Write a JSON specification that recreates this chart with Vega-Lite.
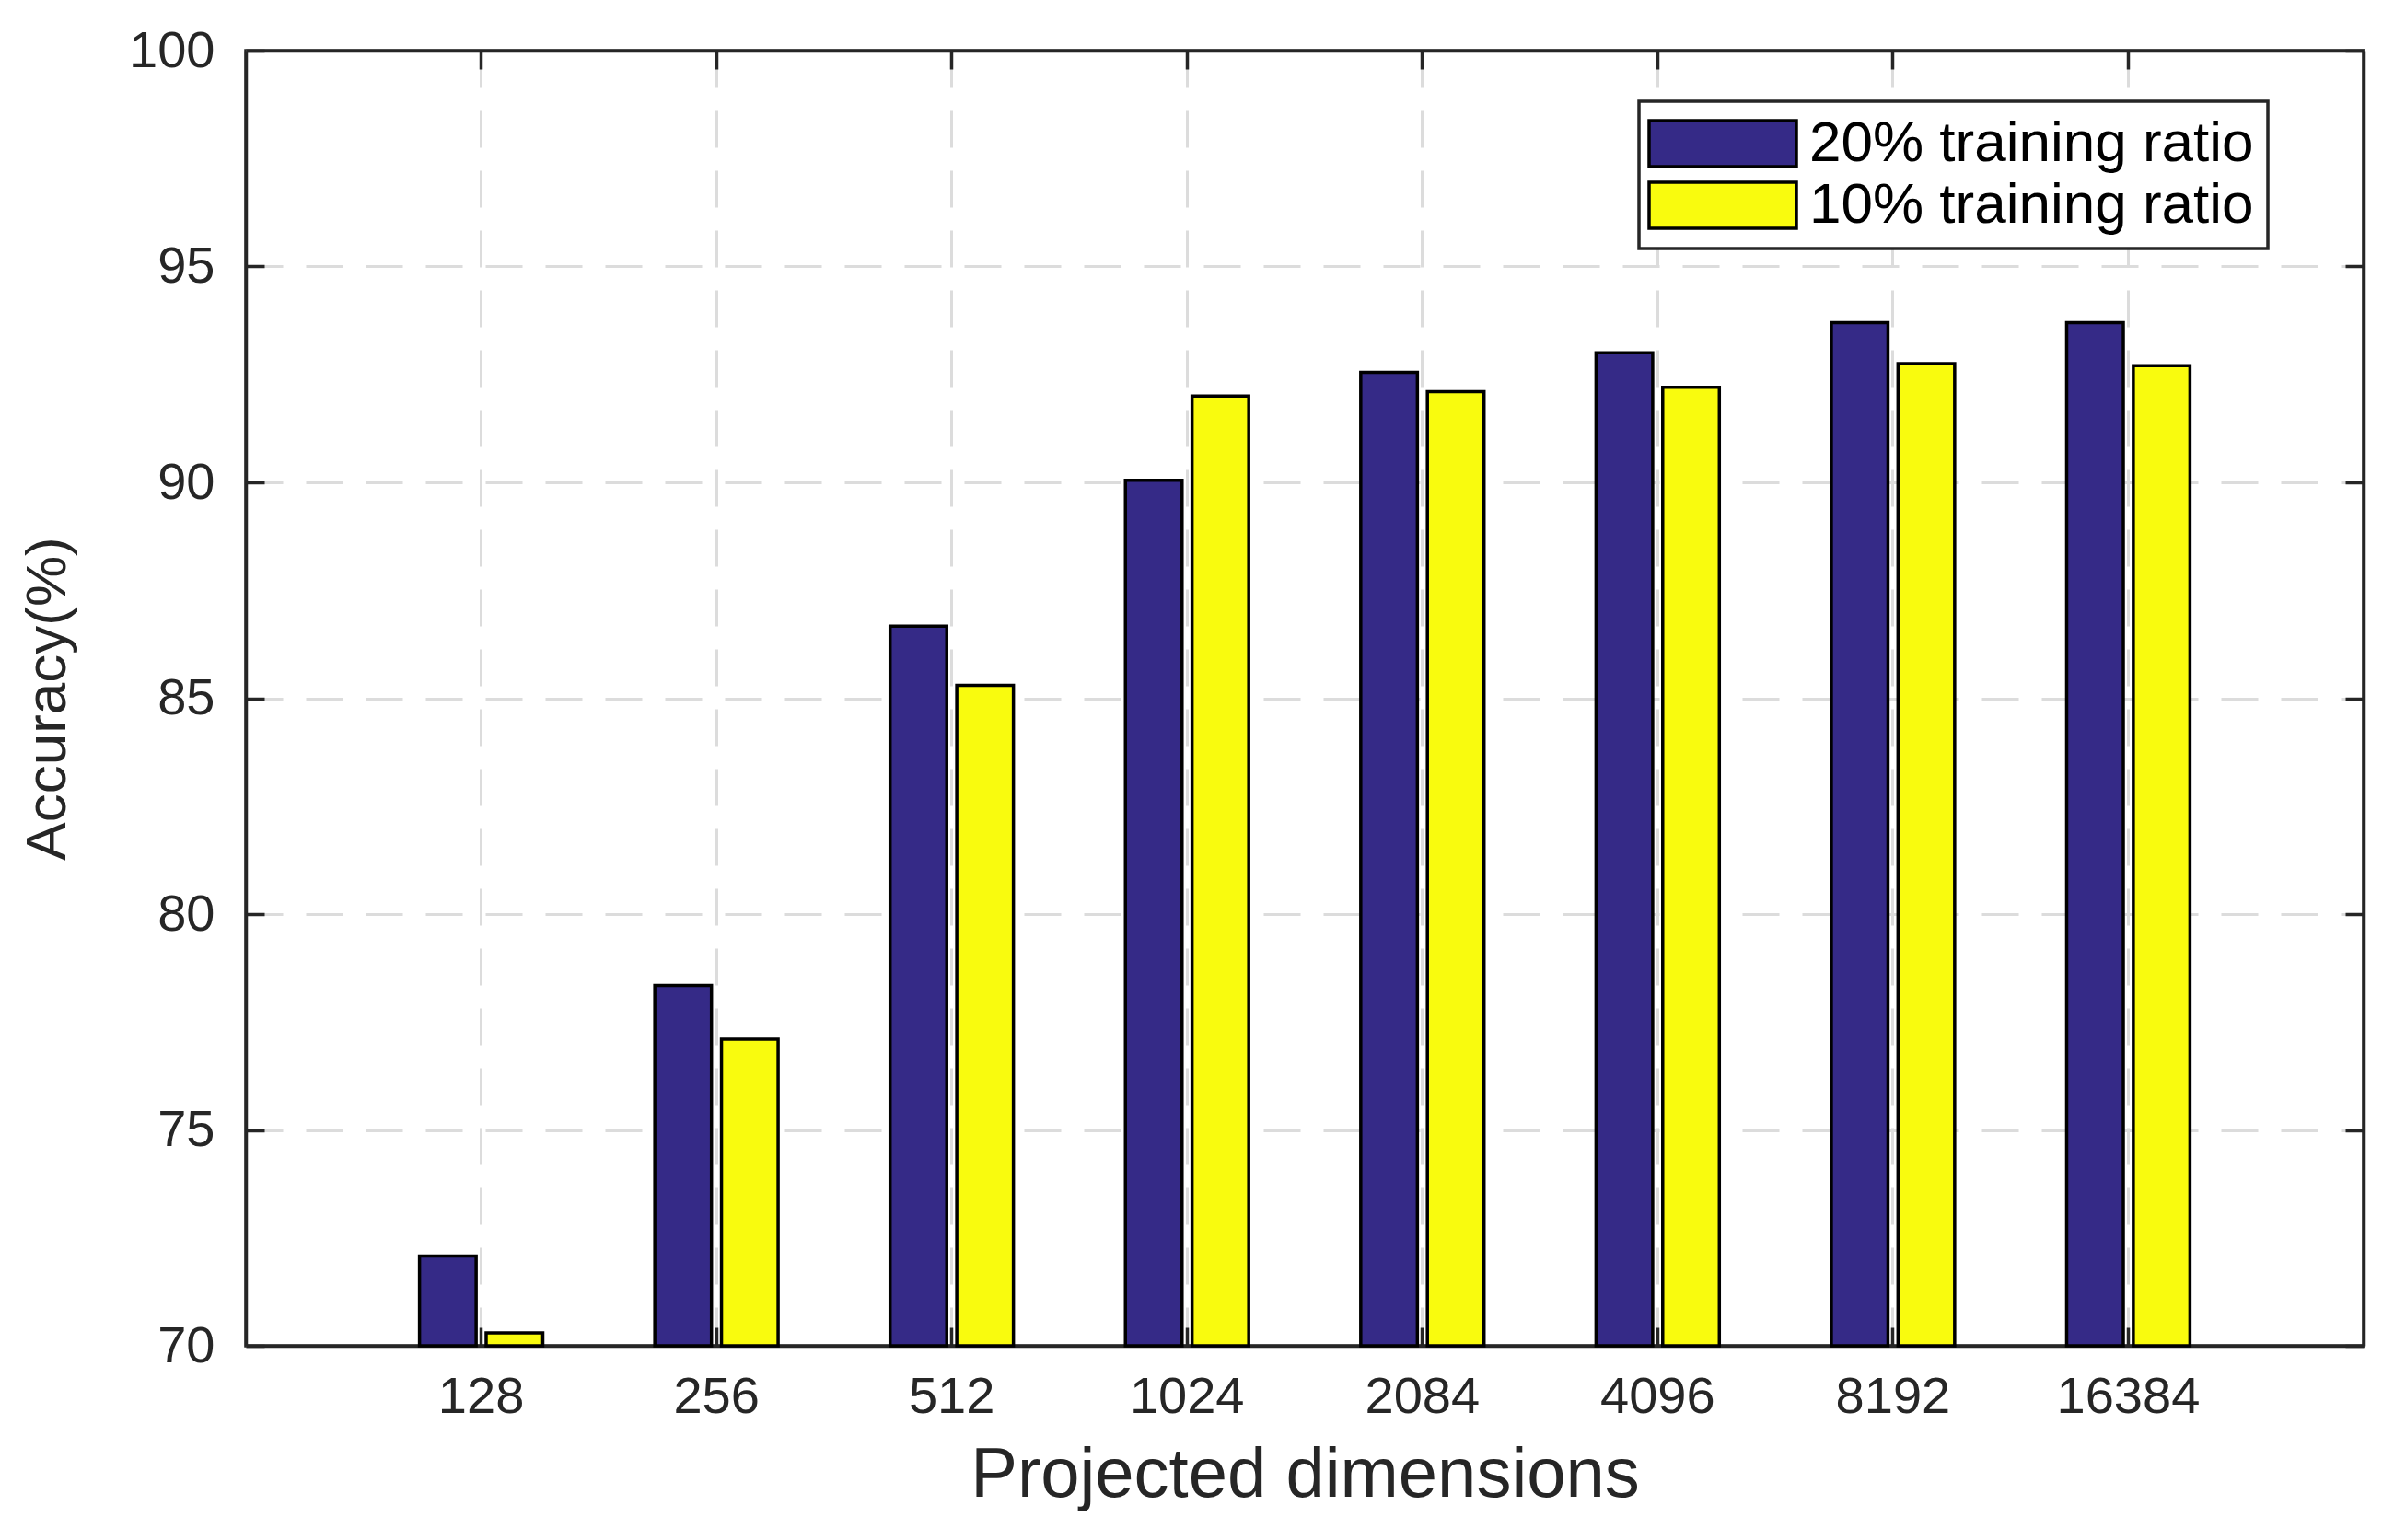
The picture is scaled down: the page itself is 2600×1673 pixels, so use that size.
{
  "$schema": "https://vega.github.io/schema/vega-lite/v6.json",
  "autosize": {"type": "none"},
  "width": 2300,
  "height": 1407,
  "padding": {"left": 267, "top": 55, "right": 33, "bottom": 211},
  "background": "white",
  "data": {"values": [
    {"dim": "128", "series": "20% training ratio", "acc": 72.08},
    {"dim": "128", "series": "10% training ratio", "acc": 70.3},
    {"dim": "256", "series": "20% training ratio", "acc": 78.35},
    {"dim": "256", "series": "10% training ratio", "acc": 77.1},
    {"dim": "512", "series": "20% training ratio", "acc": 86.67},
    {"dim": "512", "series": "10% training ratio", "acc": 85.3},
    {"dim": "1024", "series": "20% training ratio", "acc": 90.05},
    {"dim": "1024", "series": "10% training ratio", "acc": 92.0},
    {"dim": "2084", "series": "20% training ratio", "acc": 92.55},
    {"dim": "2084", "series": "10% training ratio", "acc": 92.1},
    {"dim": "4096", "series": "20% training ratio", "acc": 93.0},
    {"dim": "4096", "series": "10% training ratio", "acc": 92.2},
    {"dim": "8192", "series": "20% training ratio", "acc": 93.7},
    {"dim": "8192", "series": "10% training ratio", "acc": 92.75},
    {"dim": "16384", "series": "20% training ratio", "acc": 93.7},
    {"dim": "16384", "series": "10% training ratio", "acc": 92.7}
  ]},
  "layer": [
    {
      "mark": {"type": "bar", "stroke": "black", "strokeWidth": 3.5, "opacity": 1},
      "encoding": {
        "x": {
          "field": "dim", "type": "nominal",
          "sort": ["128", "256", "512", "1024", "2084", "4096", "8192", "16384"],
          "scale": {"type": "band", "paddingInner": 0.476, "paddingOuter": 0.738},
          "axis": {
            "orient": "bottom", "title": "Projected dimensions", "labelAngle": 0,
            "grid": true, "labelPadding": 48, "titlePadding": 20, "titleFontSize": 76
          }
        },
        "xOffset": {
          "field": "series", "type": "nominal",
          "sort": ["20% training ratio", "10% training ratio"],
          "scale": {"paddingInner": 0.15, "paddingOuter": 0}
        },
        "y": {
          "field": "acc", "type": "quantitative",
          "scale": {"domain": [70, 100], "zero": false, "nice": false},
          "axis": {
            "orient": "left", "title": "Accuracy(%)", "values": [70, 75, 80, 85, 90, 95, 100],
            "grid": true, "labelPadding": 54, "titlePadding": 56, "titleFontSize": 62
          }
        },
        "y2": {"datum": 70},
        "color": {
          "field": "series", "type": "nominal",
          "sort": ["20% training ratio", "10% training ratio"],
          "scale": {"domain": ["20% training ratio", "10% training ratio"], "range": ["#352A87", "#F9FB0E"]},
          "legend": {
            "title": null, "orient": "none", "legendX": 1513, "legendY": 55,
            "symbolType": "M-3.2,-1H3.2V1H-3.2Z", "symbolSize": 2500,
            "symbolStrokeColor": "black", "symbolStrokeWidth": 3.5, "symbolOpacity": 1,
            "symbolOffset": 45,
            "labelFontSize": 62, "labelFont": "Liberation Sans", "labelColor": "black",
            "labelLimit": 0,
            "labelOffset": 63, "rowPadding": 3, "padding": 15,
            "strokeColor": "#262626", "fillColor": "white"
          }
        }
      }
    },
    {
      "mark": {"type": "bar", "opacity": 0},
      "encoding": {
        "x": {
          "field": "dim", "type": "nominal",
          "sort": ["128", "256", "512", "1024", "2084", "4096", "8192", "16384"],
          "axis": {"orient": "top", "title": null, "labels": false, "grid": false}
        },
        "y": {
          "field": "acc", "type": "quantitative",
          "axis": {"orient": "right", "title": null, "labels": false, "grid": false, "values": [70, 75, 80, 85, 90, 95, 100]}
        }
      }
    }
  ],
  "resolve": {"axis": {"x": "independent", "y": "independent"}},
  "config": {
    "view": {"stroke": "#262626", "strokeWidth": 3.5},
    "legend": {"strokeWidth": 3.5},
    "axis": {
      "domainColor": "#262626", "domainWidth": 3.5,
      "tickColor": "#262626", "tickWidth": 3.5, "tickSize": -20,
      "labelFont": "Liberation Sans", "labelFontSize": 56, "labelColor": "#262626",
      "labelLimit": 0,
      "titleFont": "Liberation Sans", "titleColor": "#262626", "titleFontWeight": "normal",
      "gridColor": "#DCDCDC", "gridDash": [40, 25], "gridWidth": 3
    }
  }
}
